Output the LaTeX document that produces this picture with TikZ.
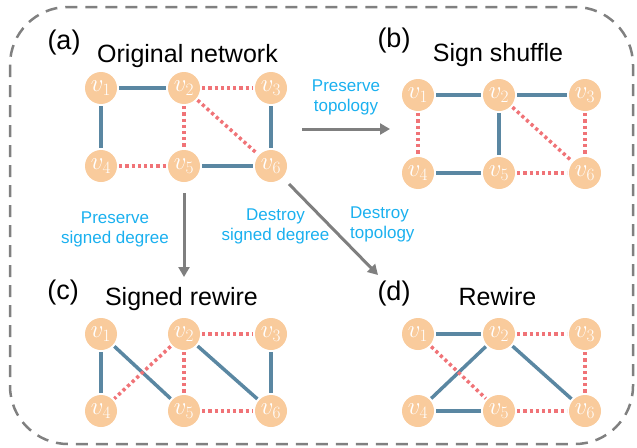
\documentclass[tikz,border=0pt]{standalone}
\usepackage{fontspec}
\setmainfont{Liberation Sans}
\usetikzlibrary{arrows.meta}
\definecolor{nodefill}{HTML}{F9CB9C}
\definecolor{posedge}{HTML}{5A87A2}
\definecolor{negedge}{HTML}{F07377}
\definecolor{arrowgray}{HTML}{7F7F7F}
\definecolor{labelblue}{HTML}{1AB0EF}
\definecolor{borderc}{HTML}{808080}
\begin{document}
\begin{tikzpicture}[x=1pt,y=-1pt,
  vtx/.style={circle,fill=nodefill,minimum size=32pt,inner sep=0pt,text=white,font=\fontsize{27}{27}\selectfont},
  plusline/.style={draw=posedge,line width=3.5pt,shorten >=2pt,shorten <=2pt},
  minusline/.style={draw=negedge,line width=3.5pt,dash pattern=on 3.2pt off 3pt,shorten >=2pt,shorten <=2pt},
  panel/.style={font=\fontsize{27}{27}\selectfont,anchor=base,inner sep=0pt},
  title/.style={font=\fontsize{25}{25}\selectfont,anchor=base,inner sep=0pt},
  note/.style={font=\fontsize{17}{20}\selectfont,text=labelblue,align=center,anchor=north,inner sep=0pt},
  flow/.style={draw=arrowgray,line width=3pt,-{Triangle[length=10pt,width=11pt]}},
  border/.style={draw=borderc,line width=2.5pt,dash pattern=on 12pt off 8pt,rounded corners=58pt}
]
\useasboundingbox (0,0) rectangle (637,447);
\draw[border] (10,7) rectangle (633,444);

% panel (a)
\node[panel] (la) at (64,49) {(a)};
\node[title] (ta) at (187.5,62) {Original network};
\foreach \n/\x/\y in {1/101/88,2/184/88,3/271/88,4/101/166,5/184/166,6/271/166}
  \node[vtx] (a\n) at (\x,\y) {$v_\n$};
\draw[plusline] (a1) -- (a2);
\draw[plusline] (a1) -- (a4);
\draw[plusline] (a3) -- (a6);
\draw[plusline] (a5) -- (a6);
\draw[minusline] (a2) -- (a3);
\draw[minusline] (a2) -- (a5);
\draw[minusline] (a2) -- (a6);
\draw[minusline] (a4) -- (a5);

% panel (b)
\node[panel] (lb) at (394,47) {(b)};
\node[title] (tb) at (498,61) {Sign shuffle};
\foreach \n/\x/\y in {1/418/95,2/499/95,3/585/95,4/418/173,5/499/173,6/585/173}
  \node[vtx] (b\n) at (\x,\y) {$v_\n$};
\draw[plusline] (b1) -- (b2);
\draw[plusline] (b2) -- (b3);
\draw[plusline] (b2) -- (b5);
\draw[plusline] (b4) -- (b5);
\draw[minusline] (b1) -- (b4);
\draw[minusline] (b2) -- (b6);
\draw[minusline] (b3) -- (b6);
\draw[minusline] (b5) -- (b6);

% panel (c)
\node[panel] (lc) at (63,299) {(c)};
\node[title] (tc) at (181.5,305) {Signed rewire};
\foreach \n/\x/\y in {1/101/334,2/184/334,3/271/334,4/101/411,5/184/411,6/271/411}
  \node[vtx] (c\n) at (\x,\y) {$v_\n$};
\draw[plusline] (c1) -- (c4);
\draw[plusline] (c1) -- (c5);
\draw[plusline] (c2) -- (c6);
\draw[plusline] (c3) -- (c6);
\draw[minusline] (c2) -- (c3);
\draw[minusline] (c2) -- (c4);
\draw[minusline] (c2) -- (c5);
\draw[minusline] (c5) -- (c6);

% panel (d)
\node[panel] (ld) at (394,300) {(d)};
\node[title] (td) at (497.5,305) {Rewire};
\foreach \n/\x/\y in {1/418/334,2/499/334,3/585/334,4/418/411,5/499/411,6/585/411}
  \node[vtx] (d\n) at (\x,\y) {$v_\n$};
\draw[plusline] (d1) -- (d2);
\draw[plusline] (d2) -- (d4);
\draw[plusline] (d2) -- (d6);
\draw[plusline] (d4) -- (d5);
\draw[minusline] (d1) -- (d5);
\draw[minusline] (d2) -- (d3);
\draw[minusline] (d3) -- (d6);
\draw[minusline] (d5) -- (d6);

% transformation arrows
\coordinate (hs) at (302,129);
\coordinate (he) at (390,129);
\coordinate (vs) at (184,193);
\coordinate (ve) at (184,277);
\coordinate (ds) at (289,184);
\coordinate (de) at (378,275);
\draw[flow] (hs) -- (he);
\draw[flow] (vs) -- (ve);
\draw[flow] (ds) -- (de);

% annotations
\node[note] (n1) at (346,79.7) {Preserve\\topology};
\node[note] (n2) at (115,211.7) {Preserve\\signed degree};
\node[note] (n3) at (275.5,208.7) {Destroy\\signed degree};
\node[note,align=left,anchor=north west] (n4) at (350,206.7) {Destroy\\topology};
\end{tikzpicture}
\end{document}
